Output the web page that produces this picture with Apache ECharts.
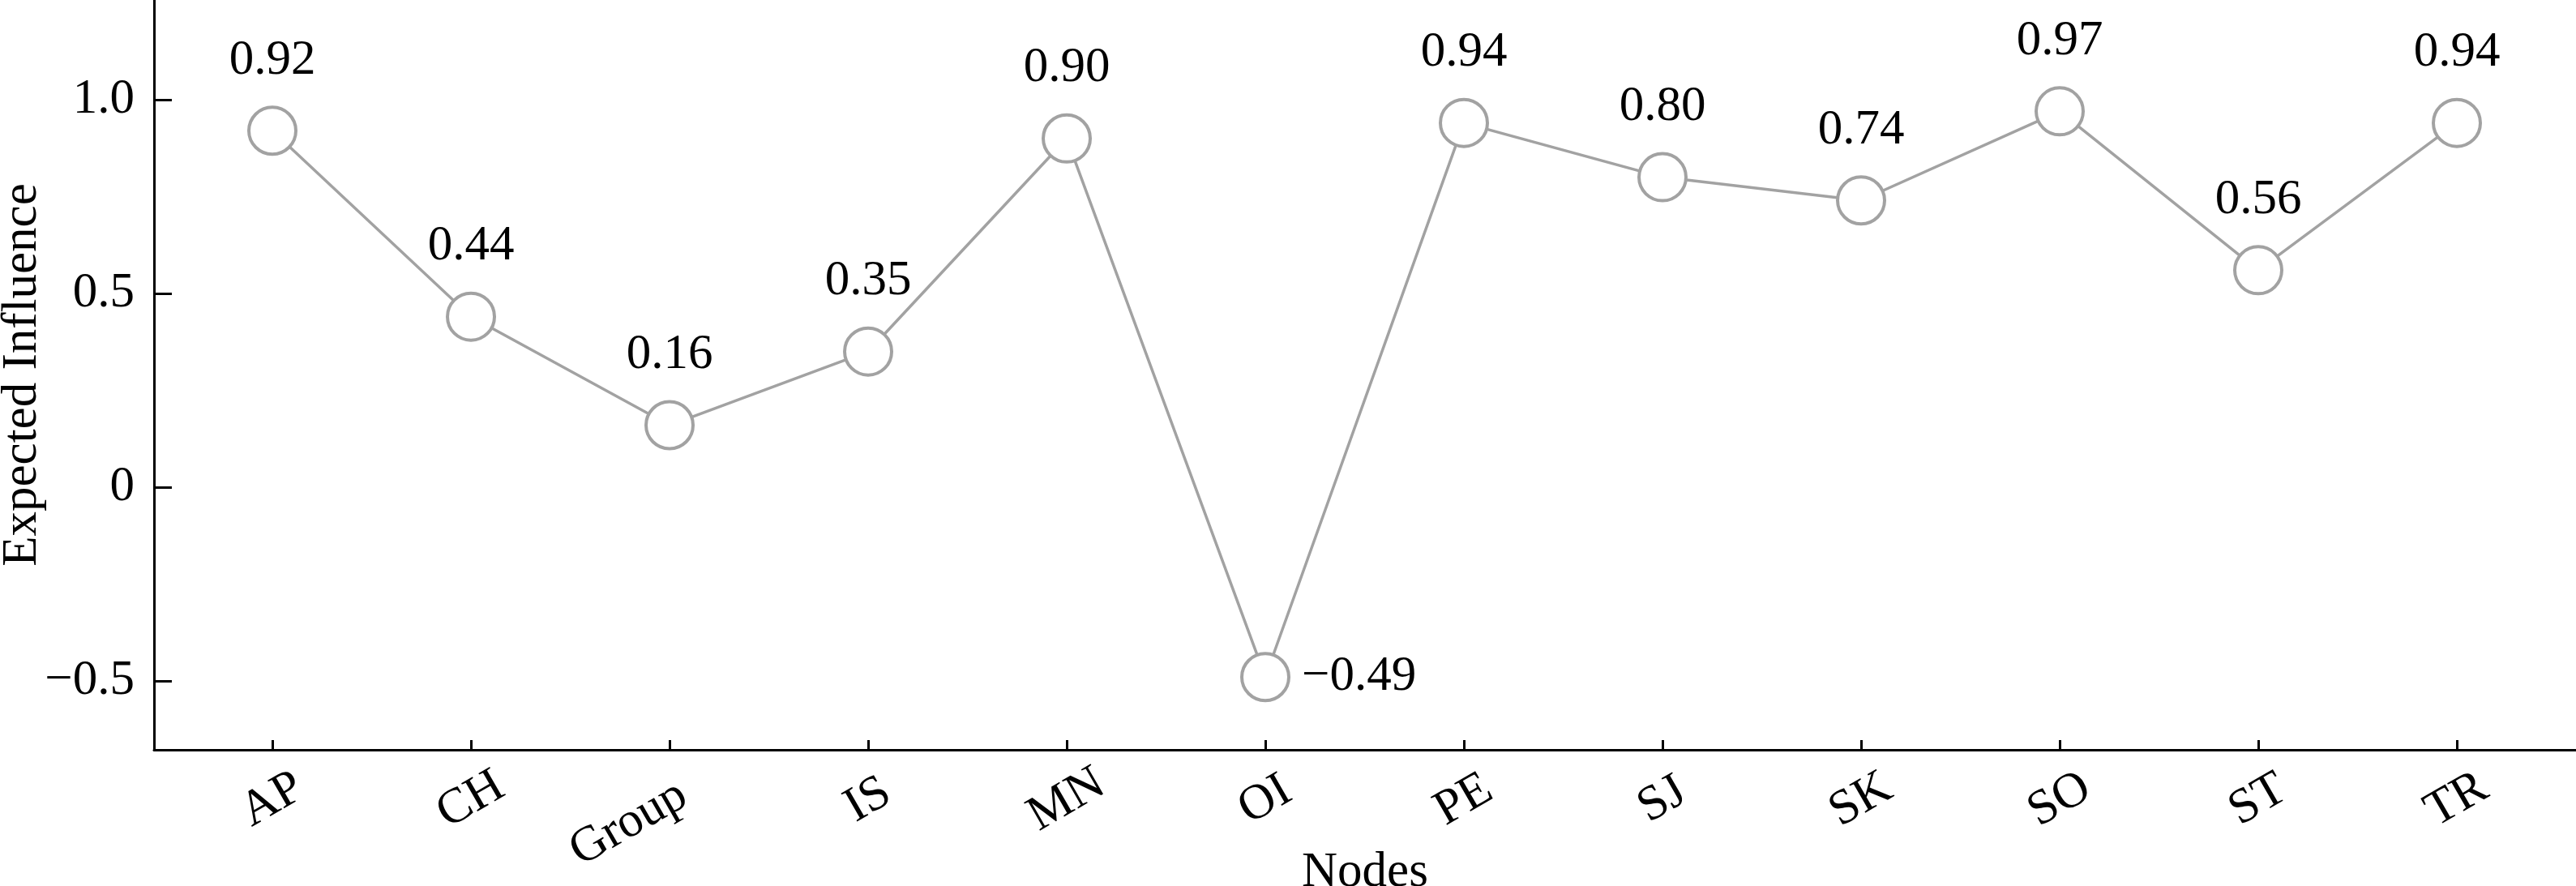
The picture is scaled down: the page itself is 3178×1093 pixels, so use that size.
<!DOCTYPE html>
<html>
<head>
<meta charset="utf-8">
<script src="https://cdn.jsdelivr.net/npm/echarts@6/dist/echarts.min.js"></script>
<style>
html,body{margin:0;padding:0;background:#fff;}
#chart{width:3178px;height:1093px;}
</style>
</head>
<body>
<div id="chart"></div>
<script>
const categories = ['AP','CH','Group','IS','MN','OI','PE','SJ','SK','SO','ST','TR'];
const influence = [0.92, 0.44, 0.16, 0.35, 0.90, -0.49, 0.94, 0.80, 0.74, 0.97, 0.56, 0.94];
const yTicks = [-0.5, 0, 0.5, 1.0];
const yTickLabels = ['\u22120.5', '0', '0.5', '1.0'];
const xAxisName = 'Nodes';
const yAxisName = 'Expected Influence';

const FONT = 'Liberation Serif';
const FS = 61;
const GRAY = '#a2a2a2';
const fmt = v => v.toFixed(2).replace('-', '\u2212');

const seriesData = categories.map((c, i) => {
  const item = { value: [i, influence[i]] };
  if (influence[i] < 0) item.label = { position: 'right', distance: 14 };
  return item;
});

const chart = echarts.init(document.getElementById('chart'), null, { renderer: 'canvas' });
chart.setOption({
  animation: false,
  backgroundColor: '#fff',
  grid: { left: 190, right: 0, top: 0, bottom: 168, containLabel: false, outerBoundsMode: 'none' },
  xAxis: {
    type: 'value',
    min: -0.596,
    max: 11.6,
    name: xAxisName,
    nameLocation: 'middle',
    nameGap: 121,
    nameMoveOverlap: false,
    nameTextStyle: { fontFamily: FONT, fontSize: FS, color: '#000' },
    splitLine: { show: false },
    axisLine: { onZero: false, lineStyle: { color: '#000', width: 3 } },
    axisTick: { inside: true, length: 12, lineStyle: { color: '#000', width: 3 }, customValues: categories.map((c, i) => i) },
    axisLabel: {
      customValues: categories.map((c, i) => i),
      formatter: v => {
        const name = categories[Math.round(v)];
        return name.length > 3 ? '{g|' + name + '}' : '{n|' + name + '}';
      },
      rotate: 30,
      align: 'center',
      verticalAlign: 'middle',
      margin: 62,
      hideOverlap: false,
      fontFamily: FONT,
      fontSize: FS,
      color: '#000',
      rich: {
        n: { fontFamily: FONT, fontSize: FS, color: '#000' },
        g: { fontFamily: FONT, fontSize: FS, color: '#000', padding: [0, 116, 0, 0] }
      }
    }
  },
  yAxis: {
    type: 'value',
    min: -0.6778,
    max: 1.2573,
    name: yAxisName,
    nameLocation: 'middle',
    nameGap: 132,
    nameMoveOverlap: false,
    nameTextStyle: { fontFamily: FONT, fontSize: FS, color: '#000' },
    splitLine: { show: false },
    axisLine: { onZero: false, lineStyle: { color: '#000', width: 3 } },
    axisTick: { inside: true, length: 22, lineStyle: { color: '#000', width: 3 }, customValues: yTicks },
    axisLabel: {
      customValues: yTicks,
      formatter: v => {
        const idx = yTicks.findIndex(t => Math.abs(t - v) < 1e-6);
        return idx >= 0 ? yTickLabels[idx] : '';
      },
      margin: 24,
      fontFamily: FONT,
      fontSize: FS,
      color: '#000'
    }
  },
  series: [{
    type: 'line',
    data: seriesData,
    symbol: 'circle',
    symbolSize: 58,
    showAllSymbol: true,
    lineStyle: { color: GRAY, width: 3.5 },
    itemStyle: { color: '#fff', borderColor: GRAY, borderWidth: 4 },
    label: {
      show: true,
      position: 'top',
      distance: 25,
      formatter: p => fmt(p.value[1]),
      fontFamily: FONT,
      fontSize: FS,
      color: '#000'
    },
    emphasis: { disabled: true },
    z: 3
  }]
});
</script>
</body>
</html>
